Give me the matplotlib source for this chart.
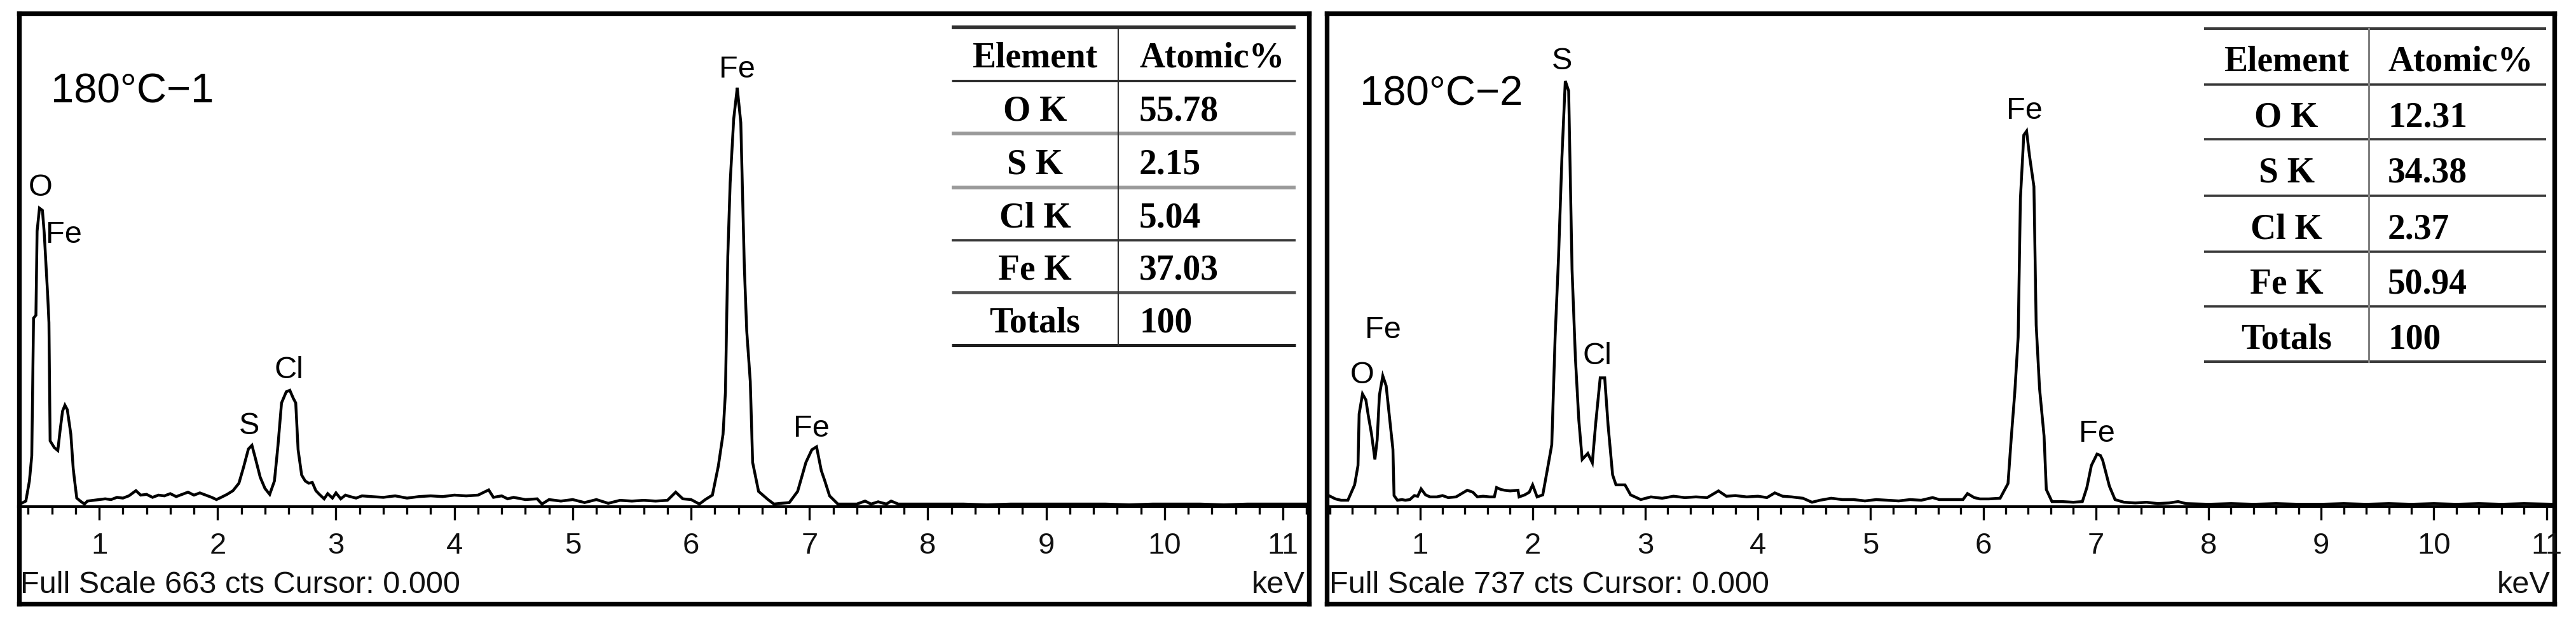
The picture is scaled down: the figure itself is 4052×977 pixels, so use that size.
import matplotlib
matplotlib.use('Agg')
import matplotlib.pyplot as plt
from matplotlib.ticker import MultipleLocator
from matplotlib.lines import Line2D

plt.rcParams['font.family'] = ['Liberation Sans', 'DejaVu Sans']

# ---------------- data ----------------
sample_names = ['180°C−1', '180°C−2']
full_scale_cts = [663, 737]

left_kev = [0.33, 0.38, 0.41, 0.43, 0.445, 0.465, 0.475, 0.495, 0.52, 0.535, 0.545, 0.565, 0.575,
            0.585, 0.62, 0.65, 0.67, 0.69, 0.71, 0.73, 0.76, 0.78, 0.79, 0.81, 0.84, 0.875, 0.90,
            0.95, 1.00, 1.05, 1.10, 1.15, 1.20, 1.25, 1.31, 1.35, 1.40, 1.45, 1.50, 1.55, 1.60,
            1.65, 1.70, 1.75, 1.80, 1.85, 1.90, 1.95, 1.99, 2.03, 2.08, 2.13, 2.18, 2.22, 2.26,
            2.29, 2.32, 2.36, 2.40, 2.44, 2.48, 2.51, 2.54, 2.58, 2.61, 2.64, 2.66, 2.68, 2.71,
            2.74, 2.77, 2.80, 2.83, 2.86, 2.90, 2.93, 2.97, 3.00, 3.04, 3.08, 3.12, 3.17, 3.22,
            3.30, 3.40, 3.50, 3.60, 3.70, 3.80, 3.90, 4.00, 4.10, 4.20, 4.29, 4.33, 4.40, 4.45,
            4.50, 4.60, 4.70, 4.74, 4.80, 4.90, 5.00, 5.10, 5.20, 5.30, 5.40, 5.50, 5.60, 5.70,
            5.80, 5.87, 5.93, 6.00, 6.07, 6.12, 6.18, 6.23, 6.27, 6.29, 6.31, 6.33, 6.36, 6.39,
            6.40, 6.42, 6.45, 6.47, 6.50, 6.52, 6.57, 6.65, 6.70, 6.76, 6.83, 6.90, 6.97, 7.02,
            7.06, 7.10, 7.13, 7.17, 7.24, 7.30, 7.40, 7.47, 7.52, 7.58, 7.65, 7.69, 7.75, 7.90,
            8.10, 8.30, 8.50, 8.70, 8.90, 9.10, 9.30, 9.50, 9.70, 9.90, 10.10, 10.30, 10.50,
            10.70, 10.90, 11.10, 11.22]
left_cts = [3, 7, 34, 68, 253, 257, 370, 401, 398, 368, 339, 282, 247,
            88, 79, 75, 103, 128, 136, 130, 97, 51, 37, 11, 7, 3, 7,
            8, 9, 10, 9, 12, 11, 14, 21, 15, 16, 12, 15, 14, 17,
            13, 16, 19, 15, 18, 15, 12, 9, 12, 16, 21, 31, 53, 77,
            82, 64, 39, 24, 16, 34, 82, 139, 154, 156, 145, 139, 76, 42,
            34, 31, 32, 21, 16, 10, 17, 11, 18, 10, 15, 13, 11, 14,
            13, 12, 14, 11, 13, 14, 13, 15, 14, 15, 22, 12, 14, 10,
            12, 9, 10, 3, 9, 7, 9, 5, 9, 4, 8, 7, 8, 7,
            8, 19, 10, 9, 3, 9, 15, 54, 97, 153, 336, 435, 521, 563,
            547, 516, 321, 236, 168, 59, 20, 9, 3, 4, 5, 20, 59, 76,
            80, 48, 34, 14, 3, 3, 3, 7, 3, 6, 3, 7, 3, 3,
            3, 3, 2, 3, 3, 3, 3, 3, 2, 3, 3, 3, 2,
            3, 3, 3, 3]

right_kev = [0.19, 0.25, 0.30, 0.36, 0.42, 0.45, 0.46, 0.49, 0.52, 0.54, 0.57, 0.60, 0.62, 0.64,
             0.67, 0.70, 0.73, 0.76, 0.77, 0.80, 0.84, 0.87, 0.91, 0.95, 0.98, 1.01, 1.05, 1.09,
             1.15, 1.20, 1.25, 1.32, 1.37, 1.42, 1.47, 1.51, 1.56, 1.62, 1.66, 1.68, 1.72, 1.75,
             1.80, 1.87, 1.88, 1.93, 1.97, 2.00, 2.04, 2.09, 2.13, 2.17, 2.20, 2.23, 2.26, 2.29,
             2.32, 2.35, 2.38, 2.41, 2.44, 2.49, 2.53, 2.56, 2.60, 2.64, 2.67, 2.71, 2.74, 2.82,
             2.87, 2.96, 3.05, 3.15, 3.25, 3.35, 3.45, 3.55, 3.65, 3.72, 3.80, 3.90, 4.00, 4.08,
             4.15, 4.22, 4.30, 4.40, 4.48, 4.55, 4.65, 4.75, 4.85, 4.95, 5.05, 5.15, 5.25, 5.35,
             5.45, 5.55, 5.61, 5.70, 5.82, 5.86, 5.92, 5.97, 6.05, 6.15, 6.22, 6.25, 6.28, 6.31,
             6.33, 6.36, 6.385, 6.41, 6.45, 6.47, 6.50, 6.54, 6.56, 6.61, 6.70, 6.80, 6.88, 6.92,
             6.96, 7.01, 7.04, 7.06, 7.12, 7.17, 7.25, 7.35, 7.45, 7.55, 7.65, 7.73, 7.80, 8.00,
             8.20, 8.40, 8.60, 8.80, 9.00, 9.20, 9.40, 9.60, 9.80, 10.00, 10.20, 10.40, 10.60,
             10.80, 11.07]
right_cts = [16, 11, 9, 9, 32, 61, 138, 168, 159, 137, 108, 70, 99, 166,
             195, 180, 132, 85, 16, 9, 10, 9, 10, 16, 15, 26, 17, 14,
             14, 16, 13, 14, 19, 24, 21, 14, 15, 14, 14, 28, 25, 24,
             23, 24, 14, 17, 21, 32, 14, 17, 54, 92, 254, 372, 521, 636,
             621, 354, 221, 129, 70, 79, 65, 124, 192, 192, 121, 47, 32, 32,
             17, 10, 14, 12, 15, 13, 14, 13, 23, 15, 16, 14, 15, 13,
             20, 15, 14, 12, 6, 9, 12, 10, 10, 8, 10, 9, 8, 10,
             9, 13, 10, 10, 10, 19, 13, 11, 11, 12, 34, 105, 170, 253,
             460, 555, 561, 525, 478, 271, 176, 105, 25, 7, 7, 6, 7, 28,
             61, 78, 76, 69, 30, 10, 6, 5, 6, 4, 5, 7, 4, 3,
             4, 3, 4, 3, 3, 4, 3, 4, 3, 4, 3, 4, 3,
             4, 3]

elements = ['O K', 'S K', 'Cl K', 'Fe K', 'Totals']
left_atomic = ['55.78', '2.15', '5.04', '37.03', '100']
right_atomic = ['12.31', '34.38', '2.37', '50.94', '100']
table_header = ['Element', 'Atomic%']

# ---------------- layout (pixels) ----------------
W, H = 4052, 977
fig = plt.figure(figsize=(W / 100, H / 100), dpi=100)
fig.patch.set_facecolor('white')


def fx(x):
    return x / W


def fy(y):
    return 1 - y / H


def px_axes(x0, ytop, x1, ybot):
    return fig.add_axes([fx(x0), fy(ybot), fx(x1) - fx(x0), fy(ytop) - fy(ybot)])


panels = [
    dict(x0=29.5, x1=2059, xlim=(0.32, 11.22), kev=left_kev, cts=left_cts,
         name_xy=(80, 162), fs_x=32, kev_x=2052,
         labels=[('O', 64, 308, 'center'), ('Fe', 72, 382, 'left'), ('S', 392, 683, 'center'),
                 ('Cl', 454, 595, 'center'), ('Fe', 1159, 122, 'center'), ('Fe', 1276, 687, 'center')],
         table=dict(x0=1497, x1=2038, xdiv=1759, yb=[43, 127, 210, 295, 378, 460, 543],
                    colors=['#303030', '#303030', '#9a9a9a', '#9a9a9a', '#383838', '#505050', '#202020'],
                    widths=[4.2, 2.4, 4.2, 4.2, 2.6, 3.4, 3.6], vcolor='#303030', vwidth=1.6,
                    dx=33, dy=21, values=left_atomic)),
    dict(x0=2086.5, x1=4018, xlim=(0.17, 11.07), kev=right_kev, cts=right_cts,
         name_xy=(2139, 165), fs_x=2091, kev_x=4011,
         labels=[('S', 2457, 109, 'center'), ('Fe', 2175, 532, 'center'), ('O', 2143, 603, 'center'),
                 ('Cl', 2512, 573, 'center'), ('Fe', 3184, 187, 'center'), ('Fe', 3298, 695, 'center')],
         table=dict(x0=3467, x1=4005, xdiv=3726, yb=[45, 133, 219, 308, 396, 482, 569],
                    colors=['#3a3a3a'] * 7, widths=[3.0, 2.6, 2.6, 2.6, 2.6, 2.6, 3.0],
                    vcolor='#808080', vwidth=2.2, dx=30, dy=23, values=right_atomic)),
]

FRAME_TOP, FRAME_BOT, BASE_Y = 21, 950, 796.5

for i, p in enumerate(panels):
    # outer frame
    fr = px_axes(p['x0'], FRAME_TOP, p['x1'], FRAME_BOT)
    fr.set_xticks([])
    fr.set_yticks([])
    for s in fr.spines.values():
        s.set_linewidth(5.3)
        s.set_color('black')
    fr.set_zorder(0)

    # spectrum axes
    ax = px_axes(p['x0'], FRAME_TOP, p['x1'], BASE_Y)
    ax.set_zorder(1)
    ax.patch.set_alpha(0)
    ax.plot(p['kev'], p['cts'], color='black', lw=3.2, solid_joinstyle='miter')
    ax.set_xlim(*p['xlim'])
    ax.set_ylim(0, full_scale_cts[i])
    for side in ['left', 'right', 'top']:
        ax.spines[side].set_visible(False)
    ax.spines['bottom'].set_linewidth(3.0)
    ax.set_yticks([])
    ax.xaxis.set_major_locator(MultipleLocator(1))
    ax.xaxis.set_minor_locator(MultipleLocator(0.2))
    ax.tick_params(axis='x', which='major', direction='out', length=15, width=2.4,
                   pad=14, labelsize=34, labelcolor='#111111')
    ax.tick_params(axis='x', which='minor', direction='out', length=8.5, width=2.4)

    # texts
    fig.text(fx(p['name_xy'][0]), fy(p['name_xy'][1]), sample_names[i], fontsize=47,
             ha='left', va='baseline')
    fig.text(fx(p['fs_x']), fy(933), f'Full Scale {full_scale_cts[i]} cts Cursor: 0.000',
             fontsize=35, ha='left', va='baseline', color='#111111')
    fig.text(fx(p['kev_x']), fy(933), 'keV', fontsize=35, ha='right', va='baseline',
             color='#111111')
    for lab, lx, ly, ha in p['labels']:
        fig.text(fx(lx), fy(ly), lab, fontsize=35, ha=ha, va='baseline')

    # table
    t = p['table']
    for y, c, w in zip(t['yb'], t['colors'], t['widths']):
        fig.add_artist(Line2D([fx(t['x0']), fx(t['x1'])], [fy(y), fy(y)], color=c, lw=w,
                              solid_capstyle='butt'))
    fig.add_artist(Line2D([fx(t['xdiv'])] * 2, [fy(t['yb'][0]), fy(t['yb'][-1])],
                          color=t['vcolor'], lw=t['vwidth']))
    rows = [tuple(table_header)] + list(zip(elements, t['values']))
    for r, (a, b) in enumerate(rows):
        yc = (t['yb'][r] + t['yb'][r + 1]) / 2 + t['dy']
        fig.text(fx((t['x0'] + t['xdiv']) / 2), fy(yc), a, ha='center', va='baseline',
                 family='Liberation Serif', weight='bold', fontsize=40)
        fig.text(fx(t['xdiv'] + t['dx']), fy(yc), b, ha='left', va='baseline',
                 family='Liberation Serif', weight='bold', fontsize=40)

fig.savefig('out.png', dpi=100, facecolor='white')
